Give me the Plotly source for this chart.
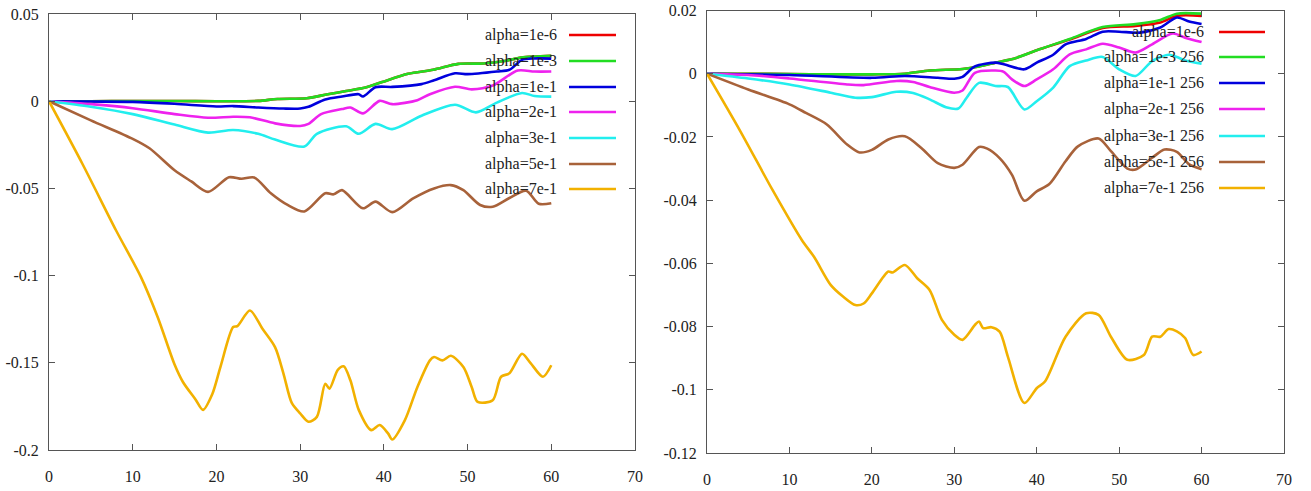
import plotly.graph_objects as go

# ---------------- data ----------------
labels_left = ["alpha=1e-6", "alpha=1e-3", "alpha=1e-1", "alpha=2e-1",
               "alpha=3e-1", "alpha=5e-1", "alpha=7e-1"]
labels_right = ["alpha=1e-6", "alpha=1e-3 256", "alpha=1e-1 256", "alpha=2e-1 256",
                "alpha=3e-1 256", "alpha=5e-1 256", "alpha=7e-1 256"]

# Left panel
green_L_x = [0, 5, 10, 15, 20, 25, 27.3, 30.8, 33.3, 35.5, 37.8, 39.8, 42.9, 45.9, 48.9, 51.9, 54.4, 56.4, 60]
green_L_y = [0, 0, 0.0001, 0.0001, 0, 0.0002, 0.0013, 0.0017, 0.004, 0.0058, 0.0078, 0.011, 0.0157, 0.018, 0.0214, 0.0216, 0.023, 0.025, 0.026]
red_L_x = [0, 5, 10, 15, 20, 25, 27.3, 30.8, 33.3, 35.5, 37.8, 39.8, 42.9, 45.9, 48.9, 51.9, 54.4, 56.4, 60]
red_L_y = [0, 0, 0.0001, 0.0001, 0, 0.0002, 0.0013, 0.0017, 0.004, 0.0058, 0.0078, 0.011, 0.0157, 0.018, 0.0214, 0.0216, 0.023, 0.025, 0.026]
blue_L_x = [0, 5, 10, 15, 20, 22, 25, 28, 30, 31, 33, 35, 37, 37.5, 39, 41, 44.5, 46, 48.5, 50, 53.5, 55, 56.5, 58, 60]
blue_L_y = [0, -0.0002, -0.0004, -0.0015, -0.003, -0.0028, -0.0036, -0.0042, -0.0042, -0.0032, 0.001, 0.0027, 0.004, 0.0027, 0.008, 0.0082, 0.0098, 0.012, 0.016, 0.0155, 0.017, 0.018, 0.0237, 0.0245, 0.0244]
magenta_L_x = [0, 5, 10, 15, 19, 22, 24, 27, 30, 31, 32.5, 35, 36, 37.5, 39.5, 41, 44, 45.5, 48.5, 50.5, 53, 56, 58, 60]
magenta_L_y = [0, -0.0017, -0.004, -0.0074, -0.0095, -0.0089, -0.0092, -0.0127, -0.0142, -0.013, -0.0074, -0.0045, -0.0036, -0.007, 0.0002, -0.0017, 0.0006, 0.004, 0.0083, 0.0068, 0.009, 0.0176, 0.017, 0.017]
cyan_L_x = [0, 5, 10, 15, 19, 22, 25, 27, 30.5, 32, 35.5, 37, 39, 41, 44.5, 48.5, 51, 53.5, 56.5, 58, 60]
cyan_L_y = [0, -0.0032, -0.0074, -0.0134, -0.018, -0.0165, -0.0187, -0.022, -0.026, -0.0187, -0.0144, -0.0187, -0.013, -0.016, -0.0083, -0.002, -0.0064, -0.0008, 0.0047, 0.003, 0.0026]
brown_L_x = [0, 5, 10, 12, 15, 17, 19, 21.5, 23, 24.5, 26.5, 28.5, 30.5, 33, 34, 35, 37.5, 39, 41, 43.5, 46, 48, 49.5, 51.5, 53, 55, 57, 58.5, 60]
brown_L_y = [0, -0.011, -0.0216, -0.027, -0.0396, -0.046, -0.052, -0.0436, -0.0445, -0.0437, -0.0528, -0.0595, -0.0632, -0.0528, -0.0534, -0.051, -0.0614, -0.0576, -0.0636, -0.0557, -0.05, -0.0481, -0.051, -0.0595, -0.0605, -0.0555, -0.0513, -0.0588, -0.0585]
yellow_L_x = [0, 4, 8, 11, 13, 15, 16, 17.5, 18.4, 19.5, 20.5, 22, 22.5, 24, 25.5, 27, 28, 29, 30, 31, 32, 33, 33.5, 34.5, 35.2, 36, 37, 38.5, 39.5, 40.5, 41, 42.5, 44, 45.5, 46, 47, 48, 49.5, 50.5, 51.2, 53, 54, 55, 56.5, 57.5, 59, 60]
yellow_L_y = [0, -0.036, -0.074, -0.101, -0.124, -0.151, -0.161, -0.171, -0.177, -0.168, -0.152, -0.1295, -0.129, -0.12, -0.1305, -0.141, -0.156, -0.173, -0.179, -0.1838, -0.181, -0.162, -0.1648, -0.154, -0.152, -0.16, -0.177, -0.1886, -0.1857, -0.1905, -0.194, -0.183, -0.164, -0.1486, -0.1467, -0.1486, -0.146, -0.1524, -0.164, -0.1724, -0.1715, -0.158, -0.156, -0.1448, -0.150, -0.158, -0.1514]

# Right panel
red_R_x = [0, 5, 10, 15, 20, 24, 27, 31, 33, 35, 37.5, 40, 44, 48, 52, 55, 57, 60]
red_R_y = [0, 0, -0.0001, -0.0002, -0.0002, 0, 0.001, 0.0015, 0.0023, 0.0035, 0.005, 0.0074, 0.0108, 0.0145, 0.0151, 0.0162, 0.0183, 0.0183]
green_R_x = [0, 5, 10, 15, 20, 24, 27, 31, 33, 35, 37.5, 40, 44, 48, 52, 55, 57, 60]
green_R_y = [0, 0, -0.0001, -0.0002, -0.0002, 0, 0.001, 0.0015, 0.0023, 0.0035, 0.005, 0.0074, 0.011, 0.0148, 0.0157, 0.017, 0.019, 0.019]
blue_R_x = [0, 10, 20, 24, 28, 30, 31, 32.5, 35, 36, 38.5, 40, 42, 43.5, 46, 48, 50, 52.5, 55, 57, 58.5, 60]
blue_R_y = [0, -0.0004, -0.0013, -0.0007, -0.0013, -0.0016, -0.001, 0.0023, 0.0035, 0.003, 0.0014, 0.0035, 0.006, 0.0093, 0.011, 0.0133, 0.0133, 0.013, 0.0146, 0.0178, 0.0165, 0.0157]
magenta_R_x = [0, 5, 10, 17, 19, 23, 25, 27, 30, 31, 32.5, 35, 36, 37, 38.5, 40, 42, 44, 46, 48, 50, 52, 54, 56.5, 58, 60]
magenta_R_y = [0, -0.0004, -0.0015, -0.0034, -0.0036, -0.0023, -0.0026, -0.0042, -0.006, -0.0053, 0.0003, 0.001, 0.0006, -0.0018, -0.0039, -0.0018, 0.0014, 0.0061, 0.0077, 0.0095, 0.0083, 0.0067, 0.0093, 0.0127, 0.0114, 0.01]
cyan_R_x = [0, 5, 10, 15, 18, 20, 23, 25, 27, 29, 30.5, 31.5, 33, 35, 36.5, 38.5, 40, 42, 44, 46, 48, 50, 52, 54, 56, 57, 58, 60]
cyan_R_y = [0, -0.0015, -0.0034, -0.006, -0.0076, -0.0074, -0.0057, -0.0061, -0.0081, -0.0106, -0.011, -0.0076, -0.0029, -0.0039, -0.0042, -0.0113, -0.0087, -0.0044, 0.0024, 0.0042, 0.0053, 0.0014, -0.0007, 0.004, 0.006, 0.0053, 0.0042, 0.0032]
brown_R_x = [0, 5, 10, 12, 14.5, 17, 18.5, 20, 22, 24, 26, 28, 30, 31, 33, 34, 35.5, 37, 38.5, 40, 41.5, 43.5, 45, 47.5, 49, 51, 52, 54, 55.5, 57, 58.5, 60]
brown_R_y = [0, -0.005, -0.0097, -0.0124, -0.016, -0.0224, -0.0249, -0.0241, -0.0208, -0.0198, -0.0235, -0.0283, -0.0298, -0.0288, -0.0232, -0.0237, -0.0267, -0.032, -0.0402, -0.0372, -0.035, -0.0277, -0.023, -0.0205, -0.0245, -0.03, -0.0303, -0.0266, -0.024, -0.0247, -0.0287, -0.0302]
yellow_R_x = [0, 4, 8, 11.5, 13, 15, 16.5, 18, 19, 20, 22, 22.5, 24, 25.5, 27, 28.5, 30, 31, 32.5, 33, 33.5, 34.5, 35.5, 36.5, 38.5, 40, 41, 43.5, 46, 47.5, 49, 51, 53, 54, 55, 56, 57, 58, 59, 60]
yellow_R_y = [0, -0.018, -0.037, -0.0526, -0.058, -0.0668, -0.0705, -0.0732, -0.0727, -0.0695, -0.0626, -0.0629, -0.0605, -0.0647, -0.0684, -0.0779, -0.0826, -0.0842, -0.0795, -0.0784, -0.0805, -0.0802, -0.0816, -0.0895, -0.1042, -0.0995, -0.0974, -0.0832, -0.0758, -0.0763, -0.0832, -0.0905, -0.089, -0.0832, -0.0832, -0.0808, -0.0815, -0.0836, -0.089, -0.0879]

x_ticks = [0, 10, 20, 30, 40, 50, 60, 70]
x_ticktext = ["0", "10", "20", "30", "40", "50", "60", "70"]
yL_ticks = [0.05, 0, -0.05, -0.1, -0.15, -0.2]
yL_ticktext = ["0.05", "0", "-0.05", "-0.1", "-0.15", "-0.2"]
yR_ticks = [0.02, 0, -0.02, -0.04, -0.06, -0.08, -0.1, -0.12]
yR_ticktext = ["0.02", "0", "-0.02", "-0.04", "-0.06", "-0.08", "-0.1", "-0.12"]

# ---------------- styling ----------------
colors = ["#ee0000", "#22dd22", "#0000dd", "#ee22ee", "#22eeee", "#a8623a", "#f2b100"]
W, H = 1311, 491
FONT = "'Times New Roman', 'Liberation Serif', 'DejaVu Serif', serif"

left_series = [(red_L_x, red_L_y), (green_L_x, green_L_y), (blue_L_x, blue_L_y),
               (magenta_L_x, magenta_L_y), (cyan_L_x, cyan_L_y), (brown_L_x, brown_L_y),
               (yellow_L_x, yellow_L_y)]
right_series = [(red_R_x, red_R_y), (green_R_x, green_R_y), (blue_R_x, blue_R_y),
                (magenta_R_x, magenta_R_y), (cyan_R_x, cyan_R_y), (brown_R_x, brown_R_y),
                (yellow_R_x, yellow_R_y)]

fig = go.Figure()
for i, (xs, ys) in enumerate(left_series):
    fig.add_trace(go.Scatter(x=xs, y=ys, mode="lines", xaxis="x", yaxis="y",
                             line=dict(color=colors[i], width=2.6, shape="spline", smoothing=0.8),
                             showlegend=False, hoverinfo="skip"))
for i, (xs, ys) in enumerate(right_series):
    fig.add_trace(go.Scatter(x=xs, y=ys, mode="lines", xaxis="x2", yaxis="y2",
                             line=dict(color=colors[i], width=2.6, shape="spline", smoothing=0.8),
                             showlegend=False, hoverinfo="skip"))

def px_x(p):
    return p / W

def px_y(p):
    return 1 - p / H

axis_common = dict(showline=True, mirror="allticks", linecolor="#555555", linewidth=1,
                   ticks="inside", ticklen=6, tickcolor="#555555", tickwidth=1,
                   showgrid=False, zeroline=False, automargin=False,
                   tickfont=dict(family=FONT, size=16, color="#222222"))

fig.update_layout(
    template="none",
    width=W, height=H,
    margin=dict(l=0, r=0, t=0, b=0, pad=0),
    paper_bgcolor="white", plot_bgcolor="white",
    font=dict(family=FONT, size=16, color="#222222"),
    showlegend=False,
    xaxis=dict(domain=[px_x(49), px_x(635)], range=[0, 70], anchor="y",
               tickvals=x_ticks, ticktext=x_ticktext, ticklabelstandoff=12, **axis_common),
    yaxis=dict(domain=[px_y(450), px_y(14)], range=[-0.2, 0.05], anchor="x",
               tickvals=yL_ticks, ticktext=yL_ticktext, ticklabelstandoff=6, **axis_common),
    xaxis2=dict(domain=[px_x(707), px_x(1284)], range=[0, 70], anchor="y2",
                tickvals=x_ticks, ticktext=x_ticktext, ticklabelstandoff=12, **axis_common),
    yaxis2=dict(domain=[px_y(453), px_y(10.5)], range=[-0.12, 0.02], anchor="x2",
                tickvals=yR_ticks, ticktext=yR_ticktext, ticklabelstandoff=6, **axis_common),
)

# manual legends (text left, line sample right, as in the reference)
rows_left = [35, 61, 87, 112, 138, 164, 189]
rows_right = [32, 57, 83, 109, 136, 162, 188]
annotations = []
shapes = []
for i in range(7):
    annotations.append(dict(x=px_x(559), y=px_y(rows_left[i]), xref="paper", yref="paper",
                            text=labels_left[i], showarrow=False, xanchor="right", yanchor="middle",
                            font=dict(family=FONT, size=16, color="#222222")))
    shapes.append(dict(type="line", xref="paper", yref="paper",
                       x0=px_x(569), x1=px_x(616), y0=px_y(rows_left[i]), y1=px_y(rows_left[i]),
                       line=dict(color=colors[i], width=2.6)))
    annotations.append(dict(x=px_x(1206), y=px_y(rows_right[i]), xref="paper", yref="paper",
                            text=labels_right[i], showarrow=False, xanchor="right", yanchor="middle",
                            font=dict(family=FONT, size=16, color="#222222")))
    shapes.append(dict(type="line", xref="paper", yref="paper",
                       x0=px_x(1219), x1=px_x(1265), y0=px_y(rows_right[i]), y1=px_y(rows_right[i]),
                       line=dict(color=colors[i], width=2.6)))
fig.update_layout(annotations=annotations, shapes=shapes)

fig.write_html("out.html")
